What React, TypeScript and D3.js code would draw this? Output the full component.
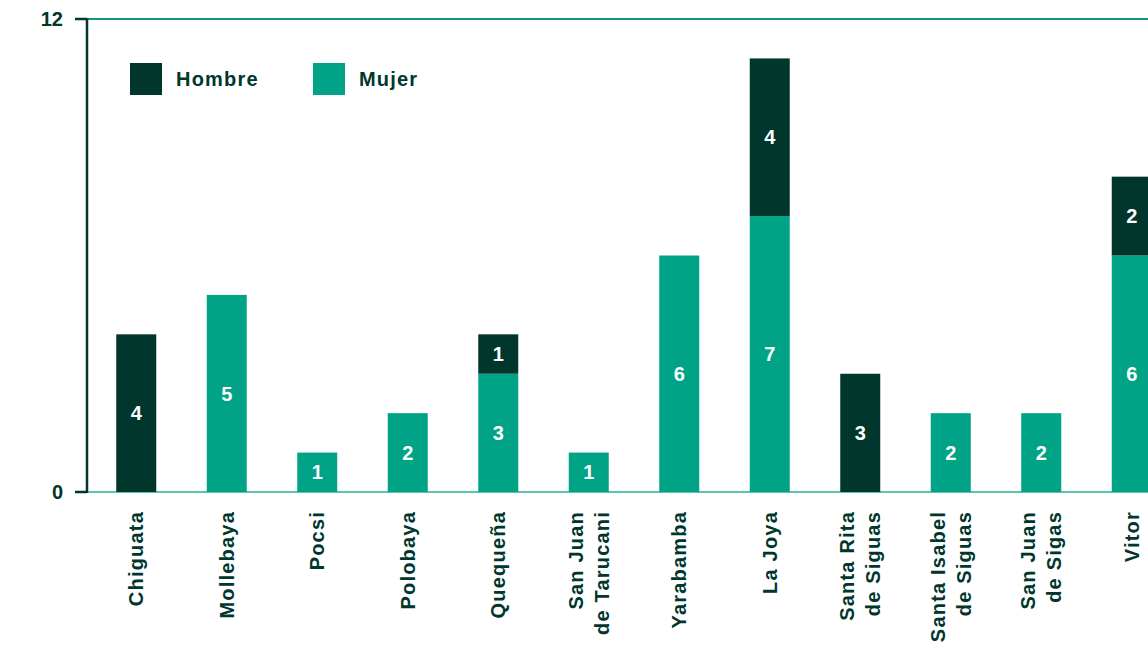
import React from "react";
import * as d3 from "d3";

const categories = [
  "Chiguata",
  "Mollebaya",
  "Pocsi",
  "Polobaya",
  "Quequeña",
  "San Juan\nde Tarucani",
  "Yarabamba",
  "La Joya",
  "Santa Rita\nde Siguas",
  "Santa Isabel\nde Siguas",
  "San Juan\nde Sigas",
  "Vitor",
];
const mujer = [0, 5, 1, 2, 3, 1, 6, 7, 0, 2, 2, 6];
const hombre = [4, 0, 0, 0, 1, 0, 0, 4, 3, 0, 0, 2];
const seriesNames = ["Hombre", "Mujer"];
const yTicks = [0, 12];

const W = 1148;
const H = 646;
const DARK = "#00362c";
const TEAL = "#00a386";
const FONT = "'Liberation Sans', Arial, sans-serif";

export default function App() {
  const x = d3
    .scaleBand<string>()
    .domain(categories)
    .range([91, 1177])
    .paddingInner(0.558)
    .paddingOuter(0.279);
  const y = d3.scaleLinear().domain([0, 12]).range([492, 19]);

  const rows = categories.map((c, i) => ({ cat: c, Mujer: mujer[i], Hombre: hombre[i] }));
  const stack = d3.stack<any>().keys(["Mujer", "Hombre"])(rows);
  const colors: Record<string, string> = { Hombre: DARK, Mujer: TEAL };

  const bw = x.bandwidth();
  const axisX = 87;

  return (
    <svg
      width={W}
      height={H}
      style={{ position: "absolute", left: 0, top: 0, display: "block" }}
      fontFamily={FONT}
    >
      <rect x={0} y={0} width={W} height={H} fill="#ffffff" />
      {/* top gridline and baseline */}
      <line x1={axisX} x2={W} y1={y(12)} y2={y(12)} stroke="#12957c" strokeWidth={2} />
      <line x1={axisX} x2={W} y1={y(0)} y2={y(0)} stroke="#5cc3ae" strokeWidth={2} />

      {/* bars */}
      {stack.map((layer) =>
        layer.map((d, i) => {
          const v = d[1] - d[0];
          if (v <= 0) return null;
          const cx = (x(categories[i]) as number) + bw / 2;
          return (
            <g key={layer.key + i}>
              <rect
                x={x(categories[i])}
                y={y(d[1])}
                width={bw}
                height={y(d[0]) - y(d[1])}
                fill={colors[layer.key]}
              />
              <text
                x={cx}
                y={(y(d[0]) + y(d[1])) / 2}
                dy="0.36em"
                textAnchor="middle"
                fill="#ffffff"
                fontWeight="bold"
                fontSize={20}
              >
                {v}
              </text>
            </g>
          );
        })
      )}

      {/* y axis */}
      <line x1={axisX} x2={axisX} y1={y(12) - 1} y2={y(0) + 1} stroke={DARK} strokeWidth={2.5} />
      {yTicks.map((t) => (
        <g key={t}>
          <line x1={75} x2={axisX} y1={y(t)} y2={y(t)} stroke={DARK} strokeWidth={2.5} />
          <text
            x={63}
            y={y(t)}
            dy="0.36em"
            textAnchor="end"
            fill={DARK}
            fontWeight="bold"
            fontSize={20}
          >
            {t}
          </text>
        </g>
      ))}

      {/* category labels */}
      {categories.map((c) => {
        const cx = (x(c) as number) + bw / 2;
        const lines = c.split("\n");
        const gap = 26;
        return (
          <g key={c} transform={`translate(${cx},511) rotate(-90)`}>
            {lines.map((ln, j) => (
              <text
                key={j}
                x={0}
                y={(j - (lines.length - 1) / 2) * gap}
                dy="0.36em"
                textAnchor="end"
                fill={DARK}
                fontWeight="bold"
                fontSize={20}
                letterSpacing={1.2}
              >
                {ln}
              </text>
            ))}
          </g>
        );
      })}

      {/* legend */}
      {seriesNames.map((s, i) => (
        <g key={s} transform={`translate(${130 + i * 183},63)`}>
          <rect x={0} y={0} width={32} height={32} fill={colors[s]} />
          <text
            x={46}
            y={16}
            dy="0.36em"
            fill={DARK}
            fontWeight="bold"
            fontSize={20}
            letterSpacing={1.2}
          >
            {s}
          </text>
        </g>
      ))}
    </svg>
  );
}
